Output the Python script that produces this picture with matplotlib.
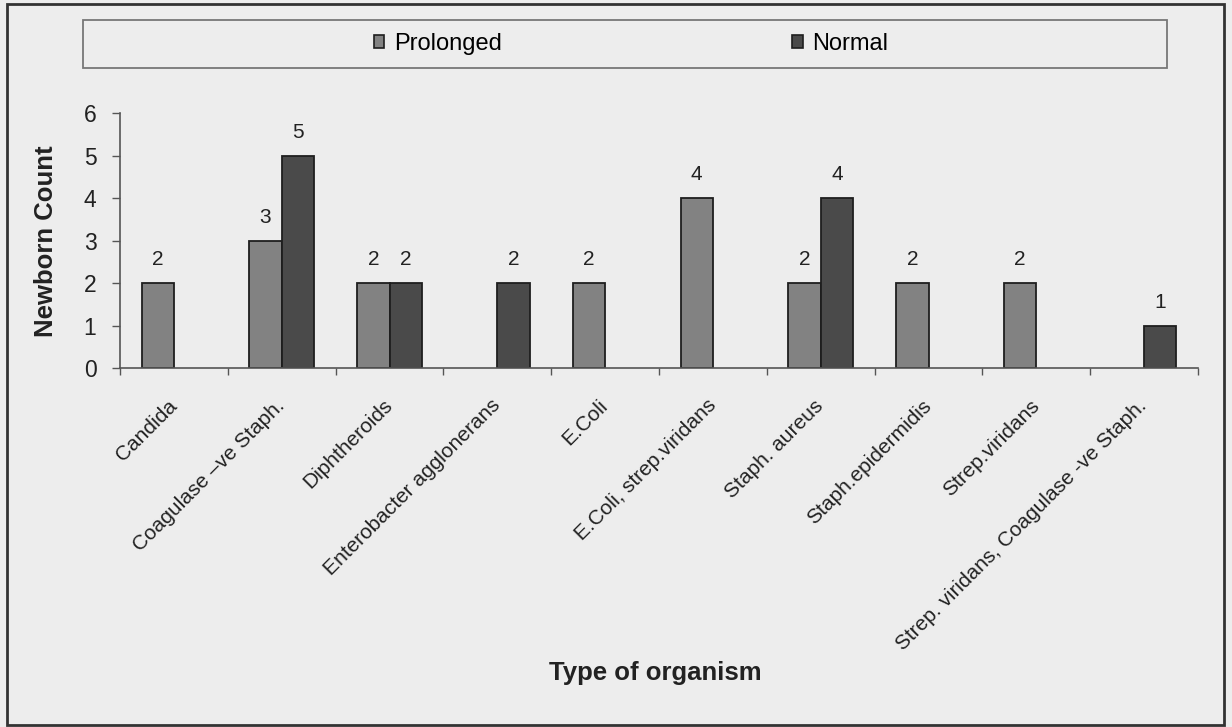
import numpy as np
import matplotlib
matplotlib.use('Agg')
import matplotlib.pyplot as plt
from matplotlib.patches import Rectangle, Patch

plt.rc('font', family=['Liberation Sans', 'DejaVu Sans'])

# data
organisms = ['Candida', 'Coagulase \u2013ve Staph.', 'Diphtheroids', 'Enterobacter agglonerans',
             'E.Coli', 'E.Coli, strep.viridans', 'Staph. aureus', 'Staph.epidermidis',
             'Strep.viridans', 'Strep. viridans, Coagulase -ve Staph.']
prolonged = [2, 3, 2, 0, 2, 4, 2, 2, 2, 0]
normal = [0, 5, 2, 2, 0, 0, 4, 0, 0, 1]
series_names = ['Prolonged', 'Normal']
yticks = [0, 1, 2, 3, 4, 5, 6]

W, H = 1232, 727
bg = '#ededed'
c_pro = '#828282'
c_nor = '#4a4a4a'
edge = '#1e1e1e'

fig = plt.figure(figsize=(W / 100, H / 100), dpi=100, facecolor=bg)
ax = fig.add_axes([120 / W, 1 - 368 / H, (1198 - 120) / W, (368 - 113) / H])
ax.set_facecolor('none')

x = np.arange(len(organisms))
w = 0.3
b1 = ax.bar(x - w / 2, prolonged, w, color=c_pro, edgecolor=edge, linewidth=1.3)
b2 = ax.bar(x + w / 2, normal, w, color=c_nor, edgecolor=edge, linewidth=1.3)

# value labels, zeros left out like the original
for bars, vals in ((b1, prolonged), (b2, normal)):
    for rect, v in zip(bars, vals):
        if v == 0:
            rect.set_visible(False)
            continue
        ax.annotate(str(v), (rect.get_x() + rect.get_width() / 2, v), xytext=(0, 10),
                    textcoords='offset points', ha='center', va='bottom',
                    fontsize=15, color='#222222')

ax.set_xlim(-0.5, len(organisms) - 0.5)
ax.set_ylim(0, 6)
ax.set_yticks(yticks)
ax.yaxis.set_tick_params(labelsize=16.5, length=6, width=1, color='#555555', pad=11,
                         labelcolor='#222222')

# group boundary ticks (major) and centred category labels (minor)
ax.set_xticks(np.arange(-0.5, len(organisms), 1.0))
ax.set_xticklabels([])
ax.xaxis.set_tick_params(which='major', length=5, width=1, color='#555555')
ax.set_xticks(x, minor=True)
ax.set_xticklabels(organisms, minor=True, rotation=45, ha='right', va='center',
                   rotation_mode='anchor', fontsize=15, color='#222222')
ax.xaxis.set_tick_params(which='minor', length=0, pad=25)

for s in ('top', 'right'):
    ax.spines[s].set_visible(False)
for s in ('left', 'bottom'):
    ax.spines[s].set_color('#555555')
    ax.spines[s].set_linewidth(1.2)

fig.text(46 / W, 1 - 241 / H, 'Newborn Count', rotation=90, ha='center', va='center',
         fontsize=18.5, fontweight='bold', color='#222222')
fig.text(655 / W, 1 - 673 / H, 'Type of organism', ha='center', va='center',
         fontsize=18.5, fontweight='bold', color='#222222')

# legend band across the top
fig.patches.append(Rectangle((83 / W, 1 - 68 / H), (1167 - 83) / W, 48 / H, transform=fig.transFigure,
                             facecolor='none', edgecolor='#777777', linewidth=1.3))
handles = [Patch(facecolor=c_pro, edgecolor=edge, linewidth=1.2, label=series_names[0]),
           Patch(facecolor=c_nor, edgecolor=edge, linewidth=1.2, label=series_names[1])]
leg = fig.legend(handles=handles, loc='center', bbox_to_anchor=(631 / W, 1 - 44 / H), ncol=2,
                 frameon=False, fontsize=17, handlelength=0.45, handleheight=0.45,
                 handletextpad=0.4, columnspacing=12.3)

# outer frame of the scanned chart
fig.patches.append(Rectangle((7 / W, 1 - 725 / H), (1224 - 7) / W, (725 - 4) / H, transform=fig.transFigure,
                             facecolor='none', edgecolor='#333333', linewidth=2))

fig.savefig('out.png', dpi=100, facecolor=bg)
